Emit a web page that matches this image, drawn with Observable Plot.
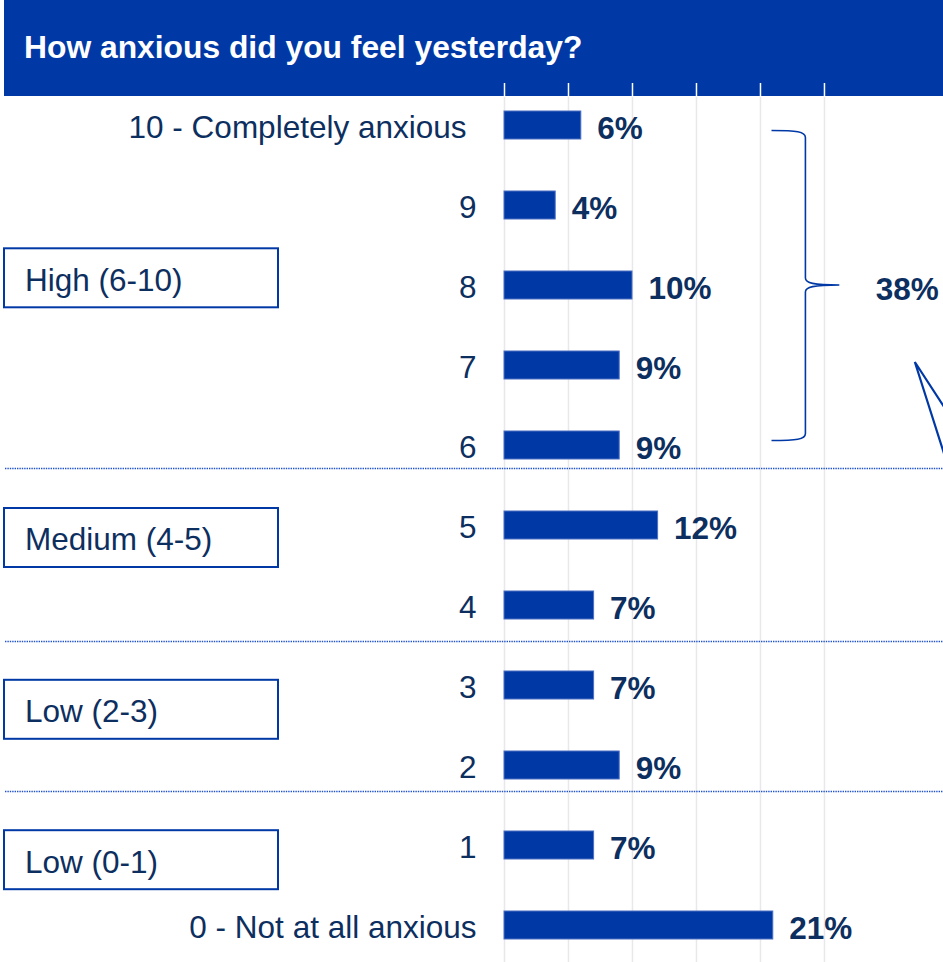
<!DOCTYPE html>
<html><head><meta charset="utf-8">
<script src="https://cdn.jsdelivr.net/npm/d3@7"></script>
<script src="https://cdn.jsdelivr.net/npm/@observablehq/plot@0.6"></script>
<style>
html,body{margin:0;padding:0;background:#fff;}
#wrap{position:relative;width:943px;height:962px;overflow:hidden;font-family:"Liberation Sans",Arial,sans-serif;}
#header{position:absolute;left:4px;top:0;width:939px;height:96px;background:#0039a6;}
#title{position:absolute;left:24px;top:31.6px;font-size:31.8px;line-height:31.5px;font-weight:bold;color:#fff;white-space:nowrap;}
#chart{position:absolute;left:0;top:0;}
</style></head><body>
<div id="wrap"><div id="header"></div><div id="title">How anxious did you feel yesterday?</div><div id="chart"></div></div>
<script>
// ---- data ----
const ratings = ["10","9","8","7","6","5","4","3","2","1","0"];
const ratingLabels = ["10 - Completely anxious","9","8","7","6","5","4","3","2","1","0 - Not at all anxious"];
const percents = [6,4,10,9,9,12,7,7,9,7,21];
const groupLabels = ["High (6-10)","Medium (4-5)","Low (2-3)","Low (0-1)"];
const groupAnchors = ["8","5","3","1"];
const highTotal = "38%";
const xTicks = [0,5,10,15,20,25];

// ---- layout / style ----
const navy = "#0d2f5f", blue = "#0039a6";
const FONT = "Liberation Sans, Arial, sans-serif";
const boxOffsets = [-7.2, 12.5, 24.3, 14.7];
const separators = [{after:"6", dy:23.2},{after:"4", dy:36.3},{after:"2", dy:26.1}];

const rows = ratings.map((r,i)=>({rating:r, label:ratingLabels[i], pct:percents[i]}));

function annotations(index, scales, values, dims) {
  const {x, y} = scales;
  const bw = typeof y.bandwidth === "function" ? y.bandwidth() : (scales.scales?.y?.bandwidth ?? 0);
  const yc = v => y(v) + bw/2;
  const g = d3.create("svg:g").attr("text-anchor","start");
  // dotted separators
  separators.forEach(s => {
    const yy = Math.round(yc(s.after) + s.dy) + 0.5;
    g.append("line").attr("x1",5).attr("x2",dims.width).attr("y1",yy).attr("y2",yy)
      .attr("stroke","#1f52c8").attr("stroke-width",1.4).attr("stroke-dasharray","1.4 1");
  });
  // group boxes
  groupLabels.forEach((lab,i) => {
    const c = yc(groupAnchors[i]) + boxOffsets[i];
    g.append("rect").attr("x",4).attr("y",c-29.5).attr("width",274).attr("height",59)
      .attr("fill","white").attr("stroke",blue).attr("stroke-width",2);
    g.append("text").attr("x",25).attr("y",c+12.8).attr("fill",navy).attr("text-anchor","start")
      .attr("font-size",31.5).attr("font-family",FONT).text(lab);
  });
  // brace
  const bx0 = x(20.9), bxv = x(23.55), bxt = x(26.2);
  const top = yc("10")+5.5, bot = yc("6")-4.5, mid = yc("8");
  const p = `M${bx0},${top} C${bx0+25},${top} ${bxv},${top+1} ${bxv},${top+7} L${bxv},${mid-7} C${bxv},${mid-2} ${bxv+8},${mid} ${bxt},${mid}`
          + ` M${bxt},${mid} C${bxv+8},${mid} ${bxv},${mid+2} ${bxv},${mid+7} L${bxv},${bot-7} C${bxv},${bot-1} ${bx0+25},${bot} ${bx0},${bot}`;
  g.append("path").attr("d",p).attr("fill","none").attr("stroke",blue).attr("stroke-width",1.6);
  // total label
  g.append("text").attr("x",x(29.05)).attr("y",mid+14.6).attr("fill",navy).attr("text-anchor","start")
    .attr("font-size",31.5).attr("font-weight","bold").attr("font-family",FONT).text(highTotal);
  // callout tail
  const tx = x(32.1), ty = yc("7") - 3;
  g.append("path").attr("d",`M${tx+56},${ty+86} L${tx},${ty} L${tx+56},${ty+176}`)
    .attr("fill","none").attr("stroke",blue).attr("stroke-width",2.2);
  return g.node();
}

const plot = Plot.plot({
  width: 943, height: 962,
  marginTop: 96, marginLeft: 504, marginRight: 0, marginBottom: 0,
  style: {background: "transparent", overflow: "visible", fontFamily: FONT},
  x: {domain: [0, 34.3], axis: null},
  y: {type: "band", domain: ratings, paddingInner: 0.65, paddingOuter: 0.2, align: 0.385, axis: null},
  marks: [
    Plot.gridX(xTicks, {stroke: "#e8e8ec", strokeOpacity: 1, strokeWidth: 1.5}),
    Plot.axisX(xTicks, {anchor: "top", tickSize: 14, stroke: "white", strokeWidth: 1.5, tickFormat: () => "", label: null}),
    annotations,
    Plot.barX(rows, {x: "pct", y: "rating", fill: blue, stroke: "#4a6fc2", strokeWidth: 1}),
    Plot.text(rows, {x: "pct", y: "rating", text: d => d.pct + "%", dx: 16, dy: 3, textAnchor: "start",
      fill: navy, fontWeight: "bold", fontSize: 31.5}),
    Plot.text(rows.filter(d => d.rating !== "10"), {y: "rating", frameAnchor: "left", text: "label", dx: -28, dy: 2,
      textAnchor: "end", fill: navy, fontSize: 31.5}),
    Plot.text(rows.filter(d => d.rating === "10"), {y: "rating", frameAnchor: "left", text: "label", dx: -38, dy: 2,
      textAnchor: "end", fill: navy, fontSize: 31.5})
  ]
});
document.getElementById("chart").appendChild(plot);
</script>
</body></html>
